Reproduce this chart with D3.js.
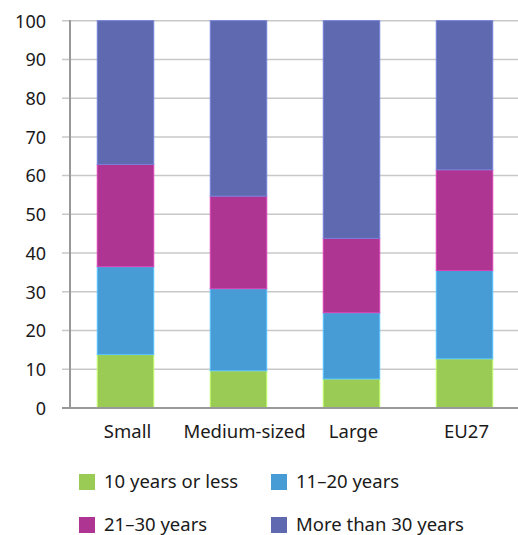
<!DOCTYPE html>
<html><head><meta charset="utf-8">
<script src="https://cdn.jsdelivr.net/npm/d3@7"></script>
<style>body{margin:0;background:#fff}svg{display:block}text{font-family:"Noto Sans",sans-serif;fill:#1a1a1a}</style>
</head><body>
<script>
const categories = ["Small", "Medium-sized", "Large", "EU27"];
const seriesNames = ["10 years or less", "11\u201320 years", "21\u201330 years", "More than 30 years"];
const tenOrLess = [13.8, 9.6, 7.5, 12.7];
const elevenTo20 = [22.7, 21.2, 17.1, 22.8];
const twentyOneTo30 = [26.4, 23.9, 19.2, 26.0];
const moreThan30 = [37.1, 45.3, 56.2, 38.5];
const yTicks = [0, 10, 20, 30, 40, 50, 60, 70, 80, 90, 100];
const colors = ["#9ACB54", "#479CD6", "#AF3592", "#5E69B0"];

const W = 518, H = 535;
const svg = d3.select("body").append("svg").attr("width", W).attr("height", H);
const x = d3.scaleBand().domain(categories).range([69, 521]).paddingInner(0.5).paddingOuter(0.25);
const y = d3.scaleLinear().domain([0, 100]).range([408, 20.7]);

// gridlines
svg.append("g").selectAll("line").data(yTicks.filter(d => d > 0)).join("line")
  .attr("x1", 62).attr("x2", 518).attr("y1", d => y(d)).attr("y2", d => y(d))
  .attr("stroke", "#c8c8c8").attr("stroke-width", 1.5);

// y tick labels
const yAxis = d3.axisLeft(y).tickValues(yTicks).tickSize(0).tickPadding(0);
const ya = svg.append("g").attr("transform", "translate(46,0)").call(yAxis);
ya.select(".domain").remove();
ya.selectAll("text").style("font-size", "18px").attr("fill", "#1a1a1a").attr("dy", "0.35em");

const data = categories.map((c, i) => ({cat: c, s0: tenOrLess[i], s1: elevenTo20[i], s2: twentyOneTo30[i], s3: moreThan30[i]}));
const stack = d3.stack().keys(["s0", "s1", "s2", "s3"])(data);

svg.append("g").selectAll("g").data(stack).join("g")
  .attr("fill", (d, i) => colors[i])
  .attr("stroke", (d, i) => d3.color(colors[i]).brighter(0.6))
  .attr("stroke-width", 1)
  .selectAll("rect").data(d => d).join("rect")
  .attr("x", d => x(d.data.cat)).attr("width", x.bandwidth())
  .attr("y", d => y(d[1])).attr("height", d => y(d[0]) - y(d[1]));

// axes lines
svg.append("line").attr("x1", 70).attr("x2", 70).attr("y1", 20).attr("y2", 408).attr("stroke", "#999").attr("stroke-width", 2);
svg.append("line").attr("x1", 62).attr("x2", 518).attr("y1", 408).attr("y2", 408).attr("stroke", "#999").attr("stroke-width", 2);

// x labels
const xAxis = d3.axisBottom(x).tickSize(0).tickPadding(0);
const xa = svg.append("g").attr("transform", "translate(0,432)").call(xAxis);
xa.select(".domain").remove();
xa.selectAll("text").style("font-size", "18.5px").attr("fill", "#1a1a1a").attr("dy", "0.35em")
  .attr("dx", d => d === "Medium-sized" ? 6 : 2);

// legend
const legPos = [[79, 482], [271, 482], [79, 525], [271, 525]];
const leg = svg.append("g").selectAll("g").data(seriesNames).join("g")
  .attr("transform", (d, i) => `translate(${legPos[i][0]},${legPos[i][1]})`);
leg.append("rect").attr("x", 0).attr("y", -8).attr("width", 16).attr("height", 16).attr("fill", (d, i) => colors[i]);
leg.append("text").attr("x", 25).attr("y", 0).attr("dy", "0.35em").style("font-size", "18.5px").text(d => d);
</script>
</body></html>
